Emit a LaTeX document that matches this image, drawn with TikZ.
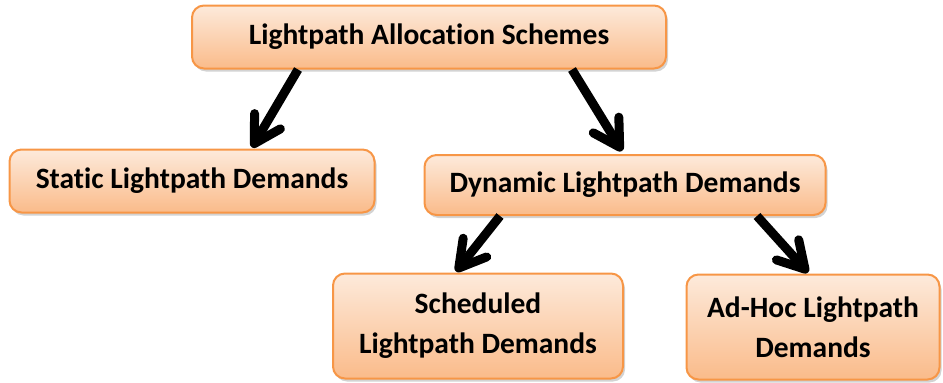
\documentclass[tikz,border=0pt]{standalone}
\usepackage{fontspec}
\setmainfont[Ligatures=NoCommon]{Carlito}
\usepackage{tikz}
\usetikzlibrary{arrows.meta,shadows}
\definecolor{boxtop}{RGB}{253,234,219}
\definecolor{boxbottom}{RGB}{250,187,138}
\definecolor{boxline}{RGB}{247,150,70}
\tikzset{
    schemenode/.style={rectangle,rounded corners=12pt,draw=boxline,line width=2pt, top color=boxtop, bottom color=boxbottom,
      drop shadow={shadow xshift=2pt,shadow yshift=-3pt,opacity=0.35}, inner sep=0pt, align=center,
      font=\fontsize{29.5}{40}\selectfont\bfseries},
    pil/.style={-{Straight Barb[length=26pt,width=30pt,round]}, line width=9pt, line cap=butt}
}

\begin{document}
\begin{tikzpicture}[x=1pt, y=-1pt]
    \useasboundingbox (0,0) rectangle (943,383);
    \node[schemenode, minimum width=474pt, minimum height=63pt] (schemes) at (429,37)
      {Lightpath Allocation Schemes};
    \node[schemenode, minimum width=365pt, minimum height=63pt] (static) at (192,181)
      {Static Lightpath Demands};
    \node[schemenode, minimum width=401pt, minimum height=60pt] (dynamic) at (625,185)
      {Dynamic Lightpath Demands};
    \node[schemenode, minimum width=290pt, minimum height=105pt] (scheduled) at (478,326)
      {Scheduled\\Lightpath Demands};
    \node[schemenode, minimum width=253pt, minimum height=105pt] (adhoc) at (813,327)
      {Ad-Hoc Lightpath\\Demands};

    \draw[pil] ([xshift=-131pt]schemes.south) -- ([xshift=60pt,yshift=1pt]static.north);
    \draw[pil] ([xshift=143pt]schemes.south) -- ([xshift=-3pt,yshift=3pt]dynamic.north);
    \draw[pil] ([xshift=-125pt]dynamic.south) -- ([xshift=-22pt,yshift=1pt]scheduled.north);
    \draw[pil] ([xshift=132pt]dynamic.south) -- ([xshift=-5pt,yshift=1pt]adhoc.north);
\end{tikzpicture}
\end{document}
